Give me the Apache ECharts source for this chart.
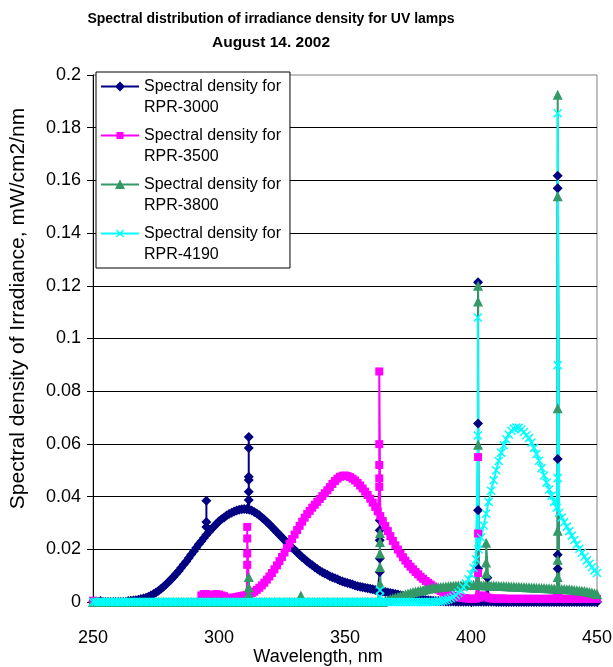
<!DOCTYPE html>
<html><head><meta charset="utf-8">
<script src="https://cdn.jsdelivr.net/npm/echarts@6/dist/echarts.min.js"></script>
<style>html,body{margin:0;padding:0;background:#fff}#c{width:613px;height:667px}</style>
</head><body><div id="c"></div>
<script>
// ---------- text ----------
const titleLines = ['Spectral distribution of irradiance density for UV lamps', 'August 14. 2002'];
const xAxisName = 'Wavelength, nm';
const yAxisName = 'Spectral density of Irradiance, mW/cm2/nm';
const seriesNames = ['Spectral density for\nRPR-3000', 'Spectral density for\nRPR-3500',
                     'Spectral density for\nRPR-3800', 'Spectral density for\nRPR-4190'];
// ---------- axes ----------
const xMin = 250, xMax = 450, xStep = 50;
const yMin = 0, yMax = 0.2, yStep = 0.02;
// ---------- data: values on a 1 nm grid starting at 250 nm (250..450) ----------
const WL_START = 250;
const rpr3000 = [
0,0,0,0.0004,0,0,0,0,0,0,
0,0,0,0,0.0004,0.0005,0.0006,0.0007,0.0009,0.0011,
0.0013,0.0016,0.002,0.0025,0.003,0.0036,0.0043,0.005,0.0058,0.0067,
0.0076,0.0086,0.0096,0.0107,0.0118,0.013,0.0142,0.0154,0.0167,0.018,
0.0193,0.0206,0.0219,0.0231,0.0243,0.0255,0.0266,0.0277,0.0287,0.0297,
0.0306,0.0314,0.0321,0.0328,0.0334,0.0339,0.0343,0.0347,0.035,0.0352,
0.0353,0.0352,0.035,0.0347,0.0342,0.0336,0.0329,0.0321,0.0313,0.0304,
0.0295,0.0285,0.0275,0.0265,0.0255,0.0245,0.0235,0.0225,0.0215,0.0206,
0.0197,0.0188,0.0179,0.017,0.0162,0.0154,0.0146,0.0139,0.0132,0.0125,
0.0119,0.0113,0.0108,0.0103,0.0098,0.0094,0.009,0.0086,0.0082,0.0078,
0.0075,0.0072,0.0069,0.0066,0.0063,0.006,0.0058,0.0056,0.0054,0.0052,
0.005,0.0048,0.0046,0.0044,0.0042,0.004,0.0038,0.0036,0.0034,0.0032,
0.003,0.0028,0.0026,0.0024,0.0022,0.002,0.0018,0.0016,0.0014,0.0012,
0.001,0.0009,0.0008,0.0007,0.0006,0.0005,0.0004,0.0004,0.0003,0.0003,
0.0002,0.0002,0.0002,0.0002,0.0001,0.0001,0.0001,0.0001,0.0001,0.0001,
0.0001,0.0001,0.0001,0.0001,0.0001,0.0001,0.0001,0.0001,0.0001,0.0001,
0,0,0,0,0,0,0,0,0,0,
0,0,0,0,0,0,0,0,0,0,
0,0,0,0,0,0,0,0,0,0,
0,0,0,0,0,0,0,0,0,0,
0];
const rpr3500 = [
0.0005,0,0,0,0,0,0,0,0,0,
0,0,0,0,0,0,0,0,0,0,
0,0,0,0,0,0,0,0,0,0,
0,0,0,0,0,0,0,0,0,0,
0,0,0,0.0025,0.003,0.003,0.0025,0.0028,0.0025,0.003,
0.0028,0.0025,0.0022,0.0016,0.0015,0.0016,0.0017,0.0019,0.0021,0.0023,
0.0025,0.0027,0.003,0.0034,0.0039,0.0046,0.0054,0.0063,0.0073,0.0085,
0.0097,0.011,0.0124,0.0139,0.0155,0.0171,0.0188,0.0205,0.0222,0.0239,
0.0256,0.0273,0.0289,0.0305,0.032,0.0334,0.0346,0.0358,0.0369,0.038,
0.0391,0.0402,0.0413,0.0424,0.0436,0.0448,0.0459,0.0468,0.0475,0.0479,
0.048,0.0478,0.0474,0.0468,0.0461,0.0452,0.0442,0.0431,0.0419,0.0406,
0.0392,0.0377,0.0361,0.0344,0.0326,0.0307,0.0288,0.0269,0.025,0.0232,
0.0215,0.0199,0.0184,0.017,0.0157,0.0145,0.0134,0.0124,0.0114,0.0105,
0.0096,0.0088,0.008,0.0073,0.0066,0.0059,0.0053,0.0047,0.0042,0.0037,
0.0033,0.0029,0.0026,0.0023,0.002,0.0018,0.0016,0.0015,0.0014,0.0013,
0.0012,0.0012,0.0013,0.0016,0.0022,0.0025,0.002,0.0016,0.0014,0.0013,
0.0013,0.0013,0.0013,0.0013,0.0012,0.0012,0.0012,0.0012,0.0012,0.0012,
0.0012,0.0012,0.0012,0.0012,0.0012,0.0012,0.0012,0.0012,0.0012,0.0012,
0.0012,0.0012,0.0012,0.0013,0.0015,0.0014,0.0012,0.0012,0.0012,0.0012,
0.0012,0.0012,0.0012,0.0012,0.0012,0.0012,0.0012,0.0012,0.0012,0.0012,
0.0012];
const rpr3800 = [
0,0,0,0,0,0,0,0,0,0,
0,0,0,0,0,0,0,0,0,0,
0,0,0,0,0,0,0,0,0,0,
0,0,0,0,0,0,0,0,0,0,
0,0,0,0,0,0,0,0,0,0,
0,0,0,0,0,0,0,0,0,0,
0,0,0,0,0,0,0,0,0,0,
0,0,0,0,0,0,0,0,0,0,
0,0,0,0,0,0,0,0,0,0,
0,0,0,0,0,0,0,0,0,0,
0,0,0,0,0,0,0,0,0,0,
0,0,0,0,0,0,0.0005,0.0008,0.0011,0.0014,
0.0017,0.002,0.0023,0.0026,0.0029,0.0032,0.0035,0.0038,0.004,0.0042,
0.0044,0.0046,0.0048,0.005,0.0052,0.0054,0.0055,0.0056,0.0057,0.0058,
0.0059,0.006,0.0061,0.0062,0.0063,0.0063,0.0064,0.0064,0.0065,0.0065,
0.0065,0.0065,0.0065,0.0065,0.0064,0.0064,0.0064,0.0063,0.0063,0.0063,
0.0062,0.0062,0.0061,0.0061,0.006,0.006,0.0059,0.0059,0.0058,0.0058,
0.0057,0.0057,0.0056,0.0056,0.0055,0.0055,0.0054,0.0054,0.0053,0.0053,
0.0052,0.0052,0.0051,0.0051,0.005,0.005,0.0049,0.0049,0.0048,0.0048,
0.0047,0.0046,0.0045,0.0044,0.0043,0.0042,0.004,0.0038,0.0036,0.0033,
0.003];
const rpr4190 = [
0,0,0,0,0,0,0,0,0,0,
0,0,0,0,0,0,0,0,0,0,
0,0,0,0,0,0,0,0,0,0,
0,0,0,0,0,0,0,0,0,0,
0,0,0,0,0,0,0,0,0,0,
0,0,0,0,0,0,0,0,0,0,
0,0,0,0,0,0,0,0,0,0,
0,0,0,0,0,0,0,0,0,0,
0,0,0,0,0,0,0,0,0,0,
0,0,0,0,0,0,0,0,0,0,
0,0,0,0,0,0,0,0,0,0,
0,0,0,0,0,0,0,0,0,0,
0,0,0,0,0,0,0,0,0,0,
0,0,0,0,0,0,0.0001,0.0002,0.0003,0.0005,
0.0007,0.001,0.0014,0.0019,0.0026,0.0034,0.0044,0.0056,0.007,0.0086,
0.0105,0.013,0.0162,0.02,0.0245,0.029,0.0335,0.038,0.0422,0.0462,
0.05,0.0535,0.0567,0.0595,0.0618,0.0636,0.065,0.0658,0.0662,0.0661,
0.0655,0.0645,0.0633,0.0622,0.0605,0.0585,0.0562,0.0536,0.0508,0.048,
0.0453,0.0427,0.0403,0.038,0.0358,0.0339,0.0321,0.0303,0.0286,0.0269,
0.0252,0.0235,0.0218,0.0202,0.0187,0.0172,0.0158,0.0145,0.0132,0.012,
0.011];
// ---------- line spikes (mercury lines): wavelength and the readings stacked there ----------
const rpr3000SpikeWl = [295, 311.8, 363.8, 402.8, 406.5, 434.4];
const rpr3000SpikeVals = [[0.0285,0.0384,0.0304],[0.0387,0.0418,0.0475,0.0626,0.0584,0.0463],
  [0.0114,0.0165,0.031,0.0272,0.0234],[0.0126,0.0348,0.1213,0.0677],[0.0092],[0.0126,0.0179,0.0543,0.1618,0.157]];
const rpr3500SpikeWl = [311.2, 363.6, 402.8, 434.4];
const rpr3500SpikeVals = [[0.0141,0.0184,0.0285,0.0241],[0.0437,0.0469,0.052,0.0599,0.0875],[0.011,0.026,0.055],[0.003]];
const rpr3800SpikeWl = [311.8, 332.5, 363.9, 402.8, 406, 434.4];
const rpr3800SpikeVals = [[0.003,0.0056,0.0095],[0.0025],[0.0069,0.0133,0.0184,0.0262,0.0228],
  [0.0597,0.12,0.114],[0.0108,0.015,0.0225],[0.0095,0.016,0.027,0.0735,0.154,0.1925]];
const rpr4190SpikeWl = [363.9, 402.7, 434.4];
const rpr4190SpikeVals = [[0.002,0.0045],[0.0632,0.108],[0.047,0.0899,0.1855]];

function buildPoints(vals, spikeWl, spikeVals) {
  const pts = vals.map((v, i) => [WL_START + i, v]);
  spikeWl.forEach((w, k) => spikeVals[k].forEach(v => pts.push([w, v])));
  pts.sort((a, b) => a[0] - b[0]); // stable: spike readings keep their order
  return pts;
}

const FONT = "'Liberation Sans', Arial, sans-serif";
const colors = ['#000080', '#FF00FF', '#339966', '#00FFFF'];
const symbols = ['diamond', 'rect', 'triangle', 'path://M0,0L10,10M10,0L0,10'];
const symbolSizes = [10, 8, 10, 8];
// legend icons (38 x 42 box: line + marker aligned with the first text line)
const BOX = 'M0,0L0.01,0L0,0.01Z M38,42L37.99,42L38,41.99Z ';
const LINE = 'M0,9.6L38,9.6L38,11.4L0,11.4Z ';
const legendIcons = [
  'path://' + BOX + LINE + 'M19,5.5L24,10.5L19,15.5L14,10.5Z',
  'path://' + BOX + LINE + 'M15.5,7L22.5,7L22.5,14L15.5,14Z',
  'path://' + BOX + LINE + 'M19,5.5L24,15L14,15Z',
  'path://' + BOX + LINE + 'M15,7.5L16,6.5L23,13.5L22,14.5Z M22,6.5L23,7.5L16,14.5L15,13.5Z'
];
const dataSets = [
  buildPoints(rpr3000, rpr3000SpikeWl, rpr3000SpikeVals),
  buildPoints(rpr3500, rpr3500SpikeWl, rpr3500SpikeVals),
  buildPoints(rpr3800, rpr3800SpikeWl, rpr3800SpikeVals),
  buildPoints(rpr4190, rpr4190SpikeWl, rpr4190SpikeVals)
];

const chart = echarts.init(document.getElementById('c'), null, {renderer: 'canvas'});
chart.setOption({
  animation: false,
  backgroundColor: '#ffffff',
  title: {
    text: '{a|' + titleLines[0] + '}\n{b|' + titleLines[1] + '}', left: 271, top: 8, textAlign: 'center', padding: 0,
    textStyle: {
      fontFamily: FONT, fontWeight: 'bold', color: '#000',
      rich: {
        a: {fontFamily: FONT, fontSize: 14, fontWeight: 'bold', lineHeight: 23, color: '#000'},
        b: {fontFamily: FONT, fontSize: 15.5, fontWeight: 'bold', lineHeight: 23, color: '#000'}
      }
    }
  },
  legend: {
    orient: 'vertical', left: 96, top: 72,
    padding: [4, 9, 3, 5],
    itemWidth: 38, itemHeight: 42, itemGap: 7,
    symbolKeepAspect: false,
    itemStyle: {borderWidth: 0},
    backgroundColor: '#ffffff', borderColor: '#000', borderWidth: 1,
    textStyle: {fontFamily: FONT, fontSize: 16, lineHeight: 21, color: '#000'},
    data: seriesNames.map((n, i) => ({name: n, icon: legendIcons[i]}))
  },
  grid: {left: 93, right: 16, top: 75, bottom: 65, show: true, borderColor: '#808080', borderWidth: 1,
         containLabel: false, outerBoundsMode: 'none'},
  xAxis: {
    type: 'value', min: xMin, max: xMax, interval: xStep,
    axisLine: {show: true, onZero: false, lineStyle: {color: '#000', width: 1}},
    axisTick: {show: true, length: 5, lineStyle: {color: '#000'}},
    axisLabel: {margin: 27, fontFamily: FONT, fontSize: 18, color: '#000'},
    splitLine: {show: false},
    name: xAxisName, nameLocation: 'middle', nameGap: 46, nameMoveOverlap: false,
    nameTextStyle: {fontFamily: FONT, fontSize: 18, color: '#000', padding: [0, 54, 0, 0]}
  },
  yAxis: {
    type: 'value', min: yMin, max: yMax, interval: yStep,
    axisLine: {show: true, lineStyle: {color: '#000', width: 1}},
    axisTick: {show: true, length: 6, lineStyle: {color: '#000'}},
    axisLabel: {margin: 12, fontFamily: FONT, fontSize: 18, color: '#000'},
    splitLine: {show: true, showMaxLine: false, lineStyle: {color: '#000', width: 1}},
    name: yAxisName, nameLocation: 'middle', nameGap: 64, nameMoveOverlap: false,
    nameTextStyle: {fontFamily: FONT, fontSize: 21, color: '#000', padding: [0, 0, 0, 60]}
  },
  series: dataSets.map((d, i) => ({
    name: seriesNames[i], type: 'line', data: d,
    symbol: symbols[i], symbolSize: symbolSizes[i], showSymbol: true, showAllSymbol: true,
    color: colors[i],
    lineStyle: {color: colors[i], width: 2},
    itemStyle: i === 3 ? {color: colors[i], borderColor: colors[i], borderWidth: 1.5} : {color: colors[i]},
    emphasis: {disabled: true}, silent: true, clip: true
  }))
});
</script>
</body></html>
